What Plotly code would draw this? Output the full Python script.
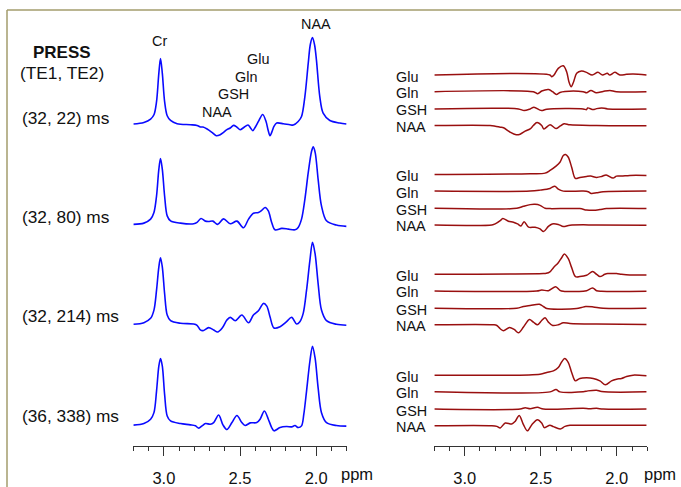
import plotly.graph_objects as go

W, H = 681, 487

# ---------------- data (ppm, amplitude in a.u.) ----------------
conditions = ["(32, 22) ms", "(32, 80) ms", "(32, 214) ms", "(36, 338) ms"]
metabolites = ["Glu", "Gln", "GSH", "NAA"]
tick_major = [3.0, 2.5, 2.0]
tick_major_text = ["3.0", "2.5", "2.0"]
tick_minor = [3.2, 3.1, 3.0, 2.9, 2.8, 2.7, 2.6, 2.5, 2.4, 2.3, 2.2, 2.1, 2.0, 1.9, 1.8]

# full PRESS spectra (left column)
ppm_te22 = [3.200, 3.131, 3.087, 3.065, 3.048, 3.033, 3.022, 3.010, 2.995, 2.978, 2.956, 2.913, 2.826, 2.782, 2.760,
            2.743, 2.716, 2.684, 2.656, 2.630, 2.608, 2.586, 2.564, 2.542, 2.520, 2.499, 2.477, 2.448, 2.432, 2.416,
            2.398, 2.379, 2.351, 2.329, 2.316, 2.303, 2.290, 2.277, 2.259, 2.216, 2.172, 2.150, 2.118, 2.096, 2.074,
            2.052, 2.038, 2.024, 2.010, 1.998, 1.976, 1.954, 1.910, 1.845, 1.801]
amp_te22 = [0.7, 2.3, 5.7, 10, 23.3, 51.7, 66.7, 51.7, 23.3, 9, 4.3, 1, 0, -0.7, -2.3,
            -2.3, -4.3, -7.7, -11, -10, -7.7, -5, -3.3, -0.7, -2.5, -5, -3, -0.3, -3, -6,
            -2, 3.3, 10.3, 3.3, -5, -11, -7, -1.7, 1.7, 1, 0, -0.3, 3.3, 8.3, 28.3,
            61.7, 81, 87.7, 80, 65, 28.3, 11.7, 4.3, 1.7, 0.7]

ppm_te80 = [3.200, 3.131, 3.087, 3.065, 3.048, 3.033, 3.022, 3.010, 2.995, 2.978, 2.956, 2.891, 2.804, 2.782, 2.756,
            2.727, 2.706, 2.678, 2.647, 2.608, 2.564, 2.520, 2.477, 2.444, 2.412, 2.379, 2.356, 2.335, 2.314, 2.292,
            2.270, 2.226, 2.183, 2.139, 2.118, 2.096, 2.074, 2.052, 2.030, 2.019, 2.006, 1.987, 1.965, 1.932, 1.867,
            1.801]
amp_te80 = [-0.3, 1, 5, 11.7, 28.3, 55, 66, 55, 28.3, 8.3, 3.3, 1, 0.3, 1.7, 5.7,
            3, 2.7, 3, -0.3, 5.3, 0.3, 3, -3.7, 5, 11, 11.7, 14, 16.7, 13.3, 1.7,
            -5.7, -4.3, -5, -5.7, -3.3, 5, 25, 51.7, 73.3, 77.7, 71.7, 45, 18.3, 3.3, -1,
            -2.3]

ppm_te214 = [3.200, 3.131, 3.087, 3.065, 3.048, 3.033, 3.022, 3.010, 2.995, 2.978, 2.956, 2.891, 2.804, 2.782, 2.760,
             2.743, 2.706, 2.673, 2.647, 2.618, 2.586, 2.564, 2.531, 2.488, 2.444, 2.412, 2.379, 2.346, 2.324, 2.303,
             2.277, 2.237, 2.194, 2.161, 2.128, 2.107, 2.085, 2.063, 2.041, 2.024, 2.007, 1.987, 1.965, 1.932, 1.867,
             1.801]
amp_te214 = [-0.3, 1.3, 5.7, 14, 34, 57.3, 66.7, 57.3, 30.7, 9, 3.3, 0.7, 0, -1.3, -6,
             -6.7, -3.7, -6, -8, -4.3, 4, 6.7, 3.3, 9, 1.3, 9, 13.3, 20.7, 18, 7.3,
             -4, -2.7, 2.3, 6.7, 0, 2.3, 10.7, 34, 64, 82.3, 70.7, 40.7, 14, 3.3, -0.3,
             -1.3]

ppm_te338 = [3.200, 3.131, 3.087, 3.065, 3.048, 3.033, 3.022, 3.010, 2.995, 2.978, 2.956, 2.891, 2.826, 2.793, 2.771,
             2.749, 2.727, 2.695, 2.673, 2.640, 2.612, 2.586, 2.553, 2.520, 2.488, 2.466, 2.433, 2.390, 2.368, 2.340,
             2.314, 2.292, 2.277, 2.237, 2.194, 2.161, 2.139, 2.118, 2.096, 2.081, 2.063, 2.041, 2.024, 2.007, 1.987,
             1.965, 1.932, 1.867, 1.801]
amp_te338 = [-0.3, 1.3, 5.7, 12.3, 34, 59, 66.7, 59, 30.7, 9, 4, 1.3, 0, -1, -3.3,
             -1, 1.3, 0.7, 2.3, 10, 0, -4.7, 2.3, 9.5, 2.3, -0.7, 2, 2.3, 5.7, 14,
             5.7, -2.7, -6, -2.7, -1.7, -2, -0.7, -2.7, -1, 10.7, 34, 64, 79, 67.3, 37.3,
             12.3, 2.3, -0.7, -1.3]

# metabolite difference traces (right column), group 1: (32, 22) ms
glu_22_ppm = [3.200, 2.440, 2.428, 2.413, 2.385, 2.352, 2.330, 2.315, 2.300, 2.284, 2.264, 2.232, 2.199, 2.162,
              2.124, 2.094, 2.063, 2.046, 2.013, 1.980, 1.936, 1.893, 1.805]
glu_22_amp = [0, 0, -1.7, 0, 6.7, 9.3, 3.3, -6.7, -11.7, -6.7, 1.7, 4, 2.7, 0, 2.7, 0, 1.7, 0, 2.7, 0, 0.7, 1, 0]
gln_22_ppm = [3.200, 2.549, 2.520, 2.494, 2.448, 2.422, 2.397, 2.374, 2.341, 2.221, 2.199, 2.170, 2.135, 2.090,
              2.045, 2.002, 1.805]
gln_22_amp = [0, 0, -2, 0.7, 2.3, 0, -2.7, -0.7, 0.3, 0, -1, 1.3, -1, 0.3, 1.3, 0, 0]
gsh_22_ppm = [3.200, 2.647, 2.610, 2.570, 2.545, 2.496, 2.461, 2.221, 2.199, 2.192, 2.155, 2.133, 2.100, 2.060,
              1.805]
gsh_22_amp = [0, 0, -1.7, 0, 1.7, -1.7, -0.3, 0, -0.7, 1, -0.7, 0.3, 1, 0, 0]
naa_22_ppm = [3.200, 2.833, 2.800, 2.767, 2.745, 2.702, 2.662, 2.636, 2.603, 2.570, 2.549, 2.525, 2.494, 2.480,
              2.439, 2.400, 2.374, 2.347, 2.308, 2.133, 1.805]
naa_22_amp = [0, 0, -0.7, -1.7, -2.3, -6.7, -9.3, -8.7, -5.7, -3.3, 0, 3, 0, -3.5, 0.7, -3, -0.7, 1.8, 0.7, 0, -0.3]

# group 2: (32, 80) ms
glu_80_ppm = [3.200, 2.570, 2.472, 2.439, 2.400, 2.374, 2.352, 2.337, 2.319, 2.297, 2.273, 2.243, 2.199, 2.172,
              2.133, 2.100, 2.070, 2.025, 2.002, 1.969, 1.915, 1.805]
glu_80_amp = [0, 0.7, 1.3, 4, 8.3, 12.3, 19, 20, 17.3, 7.3, -4, -3, -2, -1.7, -3, -2, -0.5, -3.7, -1.7, -1.7, -1,
              -1]
gln_80_ppm = [3.200, 2.570, 2.505, 2.439, 2.408, 2.385, 2.352, 2.221, 2.188, 2.168, 2.133, 2.090, 1.805]
gln_80_amp = [0, 0, 1, 2.7, 5, 2, 0, 0, -0.7, -2.3, -1.7, -0.7, 0]
gsh_80_ppm = [3.200, 2.658, 2.614, 2.570, 2.538, 2.505, 2.472, 2.439, 2.243, 2.199, 2.155, 2.111, 2.068, 1.805]
gsh_80_amp = [0, 0, 2, 3.7, 4, 3, 0, -0.3, -0.3, -1.7, -2, -1.3, -0.3, -0.3]
naa_80_ppm = [3.200, 2.822, 2.800, 2.767, 2.750, 2.713, 2.680, 2.653, 2.630, 2.610, 2.580, 2.538, 2.505, 2.482,
              2.450, 2.425, 2.385, 2.352, 2.308, 2.133, 1.805]
naa_80_amp = [0, 0, 1, 4.3, 6.5, 3.7, 2.7, 1, -1, 3.3, -2.3, -2.3, -4, -6.7, -1.5, 1, 0.5, -1.7, -0.3, 0, -0.3]

# group 3: (32, 214) ms
glu_214_ppm = [3.200, 2.483, 2.464, 2.440, 2.417, 2.385, 2.363, 2.345, 2.319, 2.297, 2.272, 2.243, 2.199, 2.159,
               2.133, 2.111, 2.079, 2.060, 2.002, 1.969, 1.915, 1.805]
glu_214_amp = [0, 0.7, 1, 2.5, 6.7, 11.7, 16.7, 20.5, 15.7, 6.7, -2.3, -2.3, -1, 2.7, 0, -2.3, 0, 0.7, 0.7, 0, -0.7,
               -0.7]
gln_214_ppm = [3.200, 2.527, 2.494, 2.450, 2.402, 2.374, 2.352, 2.221, 2.199, 2.159, 2.133, 2.100, 1.805]
gln_214_amp = [0, 0, 1, 0.3, 4.3, 0.7, -0.3, -0.3, 0.3, 3, 0.3, -0.3, -0.3]
gsh_214_ppm = [3.200, 2.658, 2.614, 2.570, 2.509, 2.483, 2.461, 2.264, 2.232, 2.205, 2.155, 2.090, 1.805]
gsh_214_amp = [0, 0, 1.7, 2.7, 4, 1.7, -0.3, -0.3, 0.7, 1.7, 1.3, 0, 0]
naa_214_ppm = [3.200, 2.811, 2.789, 2.767, 2.745, 2.706, 2.675, 2.647, 2.614, 2.575, 2.549, 2.522, 2.494, 2.472,
               2.450, 2.422, 2.385, 2.352, 2.308, 2.133, 1.805]
naa_214_amp = [0, 0, -0.7, -4, -6, -2.7, -4.7, -8, -2.3, 5.3, 2.7, 0, 4.3, 7, 2.7, -0.7, 0, 2, 1.3, 0.7, 0.3]

# group 4: (36, 338) ms
glu_338_ppm = [3.200, 2.505, 2.461, 2.417, 2.385, 2.363, 2.343, 2.319, 2.297, 2.273, 2.243, 2.199, 2.155, 2.111,
               2.075, 2.035, 2.002, 1.969, 1.936, 1.893, 1.805]
glu_338_amp = [0, 1, 2.7, 4.3, 7.7, 13.3, 16.7, 12.7, 2.7, -5.7, -3.3, -2.7, -3.3, -5.7, -9.7, -5.7, -4, -3.3, -1.3,
               0, -0.7]
gln_338_ppm = [3.200, 2.439, 2.400, 2.374, 2.221, 2.190, 2.133, 2.100, 1.805]
gln_338_amp = [0, 0, 2.3, 0, 0, 1, 1.7, 0.3, 0]
gsh_338_ppm = [3.200, 2.636, 2.603, 2.570, 2.522, 2.483, 2.221, 2.180, 2.133, 2.090, 1.805]
gsh_338_amp = [0, 0, 1.3, 0.3, 1.7, 0, 0.7, 0.3, 0.7, 0, 0]
naa_338_ppm = [3.200, 2.822, 2.789, 2.767, 2.734, 2.691, 2.669, 2.642, 2.614, 2.588, 2.559, 2.522, 2.494, 2.476,
               2.440, 2.417, 2.372, 2.341, 2.308, 2.133, 1.805]
naa_338_amp = [0, 0, -0.7, -2.3, 2.7, 1.7, 4.3, 10.3, 1, -5.2, 1, 6, 2.7, -2, 0.5, -1, -3.3, -0.7, 0.3, 0.3, 0.3]

left_spectra = [(ppm_te22, amp_te22), (ppm_te80, amp_te80), (ppm_te214, amp_te214), (ppm_te338, amp_te338)]
right_spectra = [
    [(glu_22_ppm, glu_22_amp), (gln_22_ppm, gln_22_amp), (gsh_22_ppm, gsh_22_amp), (naa_22_ppm, naa_22_amp)],
    [(glu_80_ppm, glu_80_amp), (gln_80_ppm, gln_80_amp), (gsh_80_ppm, gsh_80_amp), (naa_80_ppm, naa_80_amp)],
    [(glu_214_ppm, glu_214_amp), (gln_214_ppm, gln_214_amp), (gsh_214_ppm, gsh_214_amp), (naa_214_ppm, naa_214_amp)],
    [(glu_338_ppm, glu_338_amp), (gln_338_ppm, gln_338_amp), (gsh_338_ppm, gsh_338_amp), (naa_338_ppm, naa_338_amp)],
]

# ---------------- layout constants ----------------
Y0 = 427.5                       # y-units == pixels
group_offsets = [302, 202, 101.5, 0]
stack_offsets = [50, 33.2, 15.9, -0.8]   # Glu, Gln, GSH, NAA
FONT = "Liberation Sans, Arial, Helvetica, sans-serif"
TXT = "#111111"
BLUE = "#0a0aff"
RED = "#990f0f"

fig = go.Figure()

for (ppm, amp), off in zip(left_spectra, group_offsets):
    fig.add_trace(go.Scatter(x=ppm, y=[a + off for a in amp], mode="lines", xaxis="x", yaxis="y",
                             line=dict(color=BLUE, width=1.6, shape="spline", smoothing=0.9),
                             hoverinfo="skip", showlegend=False))

for group, off in zip(right_spectra, group_offsets):
    for (ppm, amp), so in zip(group, stack_offsets):
        fig.add_trace(go.Scatter(x=ppm, y=[a + off + so for a in amp], mode="lines", xaxis="x2", yaxis="y",
                                 line=dict(color=RED, width=1.5, shape="spline", smoothing=0.9),
                                 hoverinfo="skip", showlegend=False))


def px(x):
    return x / W


def py(y):
    return 1 - y / H


annotations = []


def ann(text, x, y, size, xanchor="center", bold=False):
    annotations.append(dict(text=f"<b>{text}</b>" if bold else text, x=px(x), y=py(y), xref="paper", yref="paper",
                            xanchor=xanchor, yanchor="middle", showarrow=False,
                            font=dict(family=FONT, size=size, color=TXT)))


ann("PRESS", 62, 53, 17, bold=True)
ann("(TE1, TE2)", 62, 73.5, 17.3)
cond_y = [118.5, 218.5, 317.5, 418.5]
for c, yy in zip(conditions, cond_y):
    ann(c, 19.5, yy, 17.3, xanchor="left")

ann("Cr", 159.2, 41.7, 14.4)
ann("NAA", 316, 24.3, 14.4)
ann("Glu", 258, 59.3, 14.4)
ann("Gln", 246, 77.3, 14.4)
ann("GSH", 233.7, 95, 14.4)
ann("NAA", 216.7, 112.3, 14.4)

for off in group_offsets:
    for m, so in zip(metabolites, stack_offsets):
        ann(m, 393.5, Y0 - (off + so) + 1.5, 14.4, xanchor="left")

ann("ppm", 339, 477, 16.5, xanchor="left")
ann("ppm", 641.5, 477, 16.5, xanchor="left")

axis_common = dict(range=[3.2006, 1.7994], anchor="free", position=1 - 449 / H,
                   showline=True, linecolor="#333333", linewidth=1,
                   ticks="outside", ticklen=9, tickwidth=1, tickcolor="#333333",
                   tickmode="array", tickvals=tick_major, ticktext=tick_major_text,
                   tickfont=dict(family=FONT, size=16.5, color=TXT), ticklabelstandoff=8,
                   minor=dict(tickmode="array", tickvals=tick_minor, ticks="outside", ticklen=4,
                              tickwidth=1, tickcolor="#333333", showgrid=False),
                   showgrid=False, zeroline=False, fixedrange=True)

fig.update_layout(
    width=W, height=H,
    margin=dict(l=0, r=0, t=0, b=0),
    paper_bgcolor="white", plot_bgcolor="rgba(0,0,0,0)",
    xaxis=dict(domain=[133.3 / W, 346.7 / W], **axis_common),
    xaxis2=dict(domain=[434.3 / W, 647.3 / W], **axis_common),
    yaxis=dict(domain=[0, 1], range=[Y0 - H, Y0], visible=False, fixedrange=True),
    annotations=annotations,
    shapes=[
        dict(type="line", xref="paper", yref="paper", x0=px(7), x1=1.01, y0=py(10), y1=py(10),
             line=dict(color="#a39d6c", width=1.5)),
        dict(type="line", xref="paper", yref="paper", x0=px(7), x1=px(7), y0=py(10), y1=-0.01,
             line=dict(color="#a39d6c", width=1.5)),
    ],
)

fig.write_html("out.html", config={"displayModeBar": False})
